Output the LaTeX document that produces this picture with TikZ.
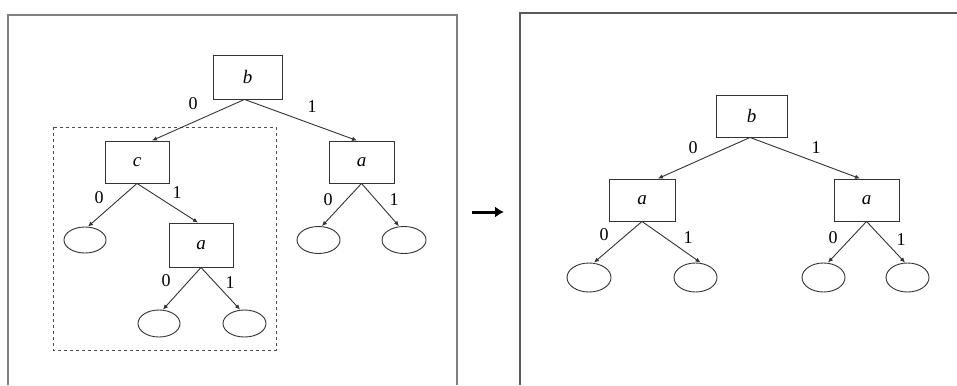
\documentclass[tikz,border=0pt]{standalone}
\usepackage{fontspec}
\setmainfont{Liberation Serif}
\usetikzlibrary{arrows.meta,shapes.geometric}
\begin{document}
\begin{tikzpicture}[x=1pt,y=-1pt,
  box/.style={draw=black!80,line width=0.9pt,inner sep=0pt,font=\fontsize{19}{22}\selectfont\itshape},
  leaf/.style={draw=black!80,line width=0.9pt,ellipse,inner sep=0pt},
  edge/.style={draw=black!80,line width=0.9pt,-{Latex[length=5pt,width=4.5pt]}},
  lbl/.style={font=\fontsize{18}{20}\selectfont,inner sep=0pt},
  frame/.style={draw=black!50,line width=1.2pt}]
\useasboundingbox (0,0) rectangle (957,385);
\fill[white] (0,0) rectangle (957,385);
% frames
\draw[frame] (8,385) -- (8,15) -- (457,15) -- (457,385);
\draw[frame,draw=black!65] (520,385) -- (520,13) -- (957,13);
\coordinate (dA) at (53,127);
\coordinate (dB) at (276,350);
\draw[dashed,draw=black!70,line width=0.9pt] (dA) rectangle (dB);
% left tree
\node[box,minimum width=69pt,minimum height=44pt] (b1) at (247.5,77) {b};
\node[box,minimum width=64pt,minimum height=42pt] (c1) at (137,162) {c};
\node[box,minimum width=65pt,minimum height=42pt] (a1) at (361.5,162) {a};
\node[box,minimum width=64pt,minimum height=44pt] (a2) at (201,245) {a};
\node[leaf,minimum width=42pt,minimum height=26pt] (e1) at (85,240) {};
\node[leaf,minimum width=42pt,minimum height=27pt] (e2) at (159,323.5) {};
\node[leaf,minimum width=43pt,minimum height=27pt] (e3) at (244.5,323.5) {};
\node[leaf,minimum width=43pt,minimum height=27pt] (e4) at (318.5,240) {};
\node[leaf,minimum width=44pt,minimum height=27pt] (e5) at (404,240) {};
\draw[edge] ([xshift=-3pt]b1.south) -- ([xshift=15pt]c1.north);
\draw[edge] ([xshift=-3pt]b1.south) -- ([xshift=-4.5pt]a1.north);
\draw[edge] (c1.south) -- ([xshift=3pt]e1.north);
\draw[edge] (c1.south) -- ([xshift=-3pt]a2.north);
\draw[edge] (a2.south) -- ([xshift=4pt]e2.north);
\draw[edge] (a2.south) -- ([xshift=-4.5pt]e3.north);
\draw[edge] (a1.south) -- ([xshift=3.5pt]e4.north);
\draw[edge] (a1.south) -- ([xshift=-5pt]e5.north);
\node[lbl] (l1) at (193,104) {0};
\node[lbl] (l2) at (312,107) {1};
\node[lbl] (l3) at (99,198) {0};
\node[lbl] (l4) at (177,193) {1};
\node[lbl] (l5) at (166,281) {0};
\node[lbl] (l6) at (230,283) {1};
\node[lbl] (l7) at (328,200) {0};
\node[lbl] (l8) at (394,200) {1};
% middle arrow
\coordinate (m1) at (472,212);
\coordinate (m2) at (504,212);
\draw[line width=3pt,-{Latex[length=9pt,width=11pt]}] (m1) -- (m2);
% right tree
\node[box,minimum width=71pt,minimum height=42pt] (B) at (751.5,116) {b};
\node[box,minimum width=66pt,minimum height=42pt] (A1) at (642,200) {a};
\node[box,minimum width=65pt,minimum height=42pt] (A2) at (866.5,200) {a};
\node[leaf,minimum width=44pt,minimum height=29pt] (E1) at (589,277.5) {};
\node[leaf,minimum width=43pt,minimum height=29pt] (E2) at (695.5,277.5) {};
\node[leaf,minimum width=43pt,minimum height=29pt] (E3) at (823.5,277.5) {};
\node[leaf,minimum width=43pt,minimum height=29pt] (E4) at (907.5,277.5) {};
\draw[edge] ([xshift=-1.5pt]B.south) -- ([xshift=16pt]A1.north);
\draw[edge] ([xshift=-1.5pt]B.south) -- ([xshift=-6.5pt]A2.north);
\draw[edge] (A1.south) -- ([xshift=5pt]E1.north);
\draw[edge] (A1.south) -- ([xshift=5pt]E2.north);
\draw[edge] (A2.south) -- ([xshift=4.5pt]E3.north);
\draw[edge] (A2.south) -- ([xshift=-2.5pt]E4.north);
\node[lbl] (L1) at (693,148) {0};
\node[lbl] (L2) at (816,148) {1};
\node[lbl] (L3) at (604,235) {0};
\node[lbl] (L4) at (688,238) {1};
\node[lbl] (L5) at (833,238) {0};
\node[lbl] (L6) at (901,240) {1};
\end{tikzpicture}
\end{document}
